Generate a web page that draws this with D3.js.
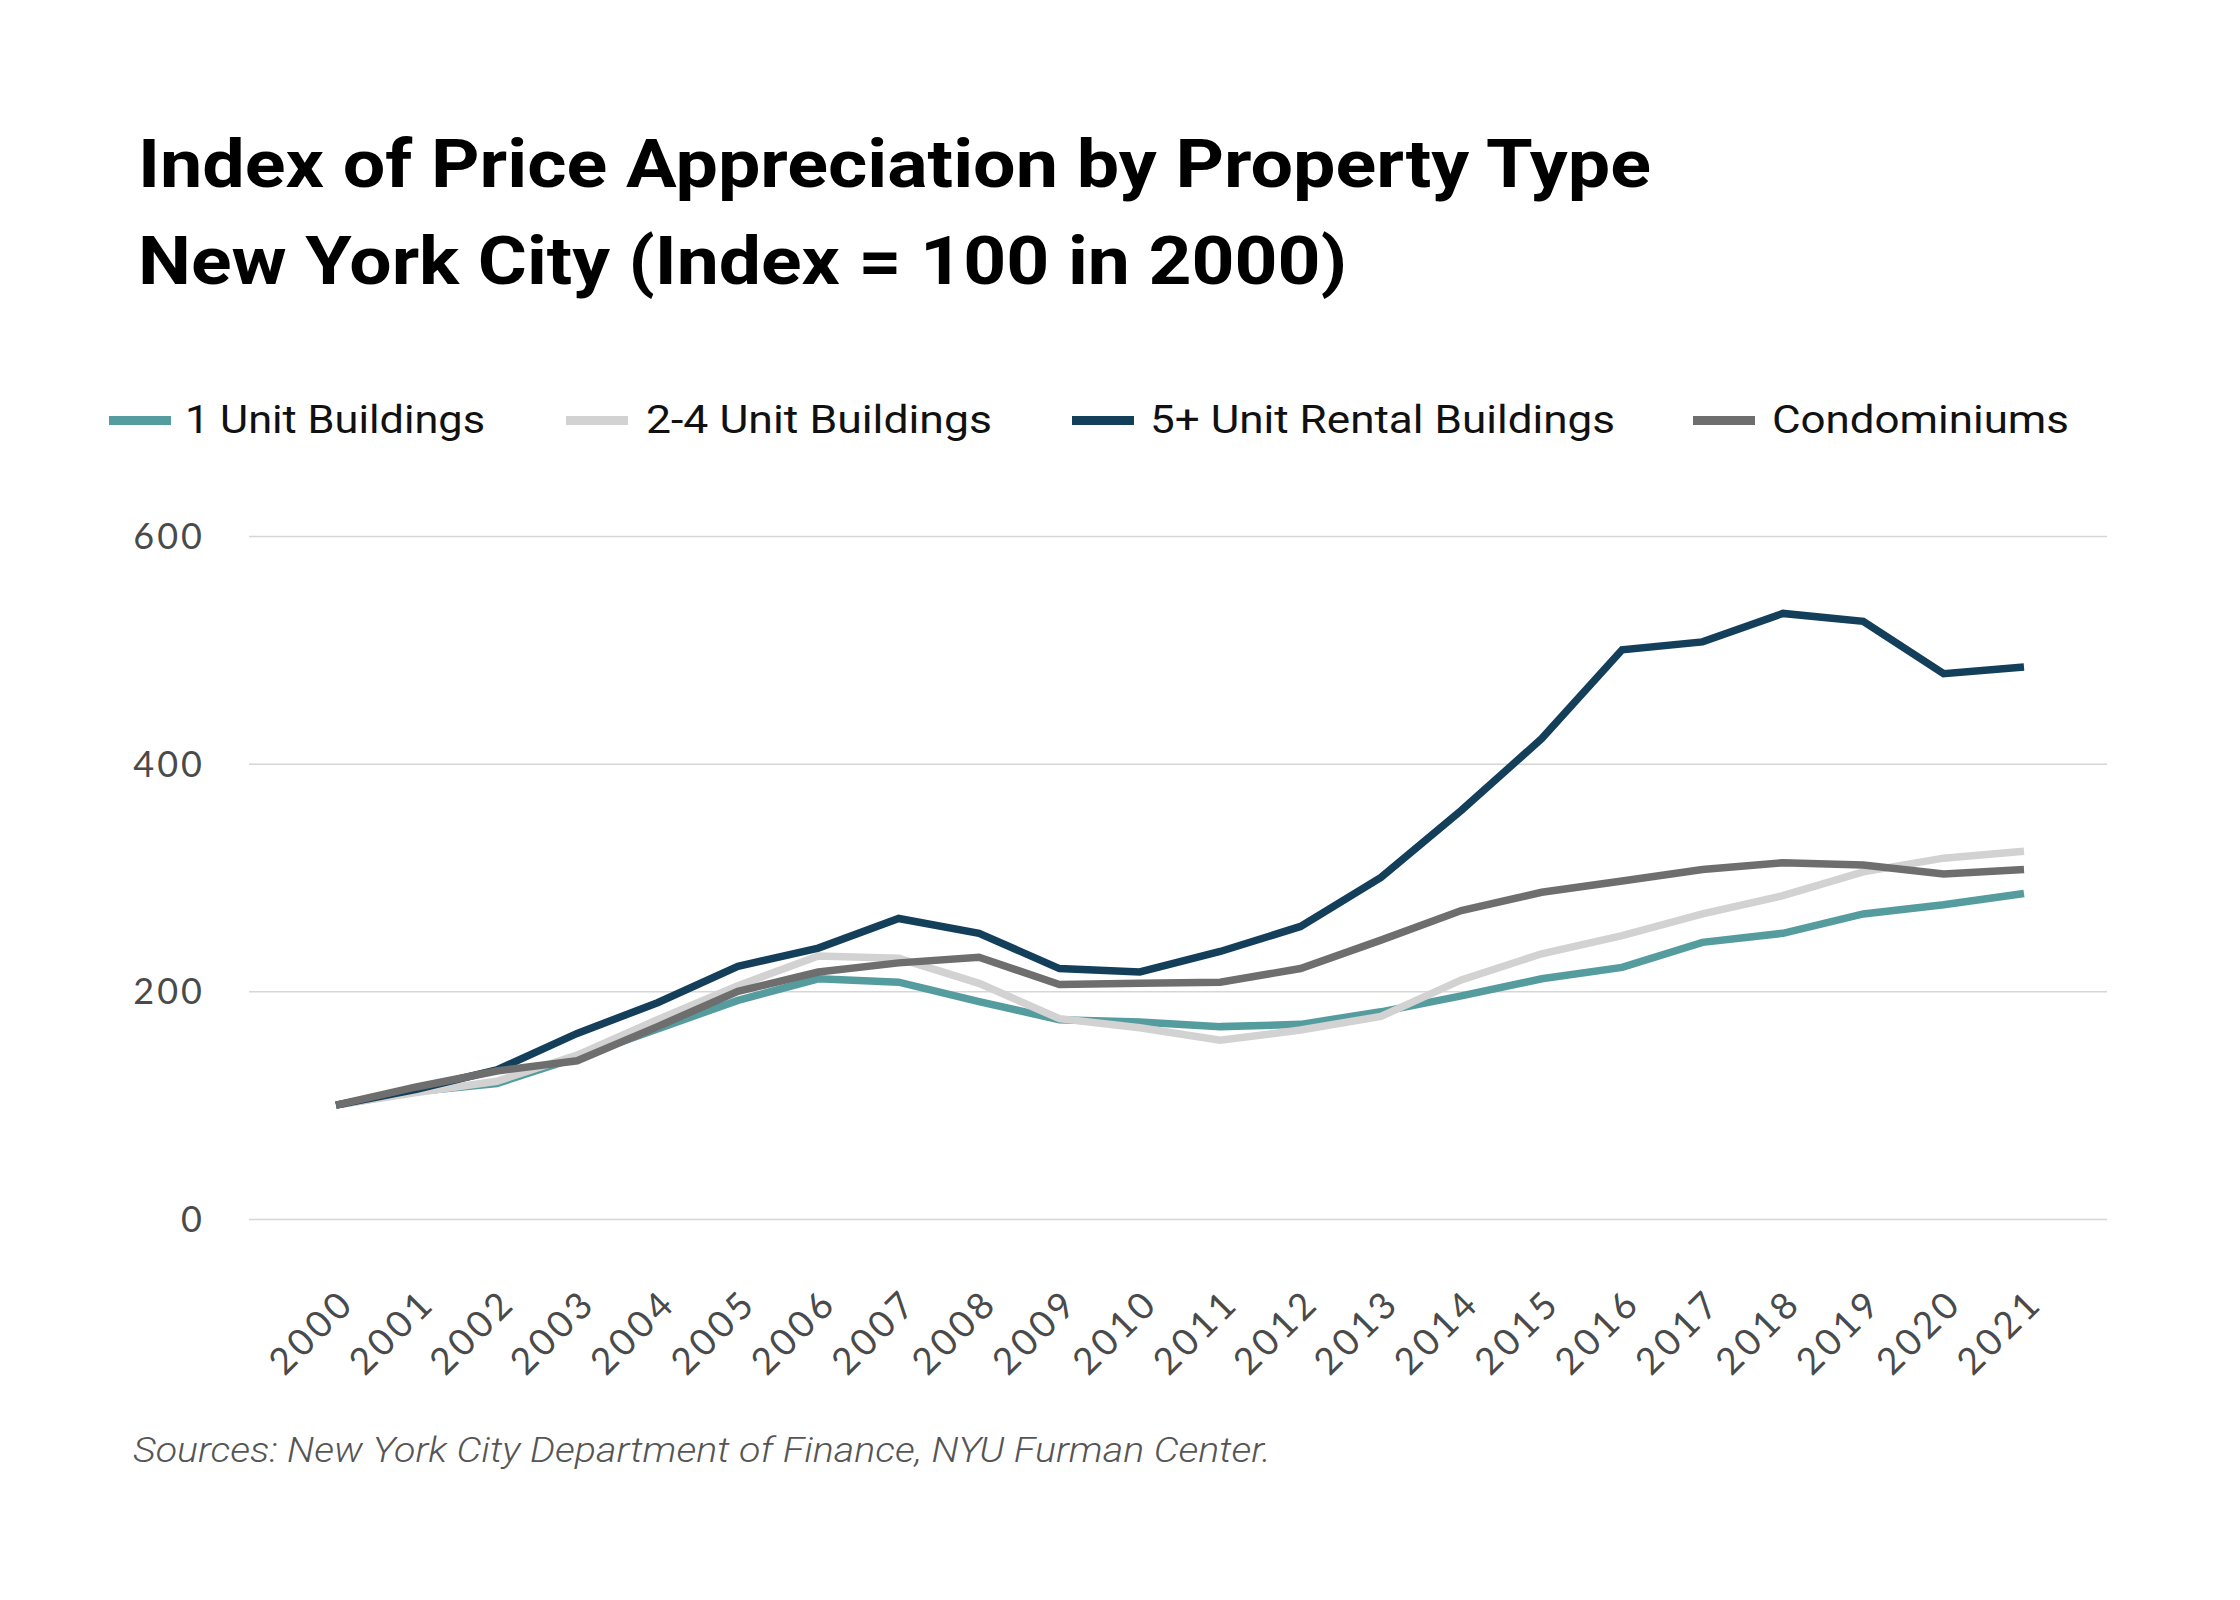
<!DOCTYPE html>
<html>
<head>
<meta charset="utf-8">
<script src="https://cdn.jsdelivr.net/npm/d3@7"></script>
<style>
  html, body { margin: 0; padding: 0; background: #ffffff; }
  svg { display: block; }
</style>
</head>
<body>
<svg id="chart" width="2240" height="1600"></svg>
<script>
// ---------- DATA ----------
const years = ["2000","2001","2002","2003","2004","2005","2006","2007","2008","2009","2010",
               "2011","2012","2013","2014","2015","2016","2017","2018","2019","2020","2021"];
const seriesNames = ["1 Unit Buildings", "2-4 Unit Buildings", "5+ Unit Rental Buildings", "Condominiums"];
const oneUnit     = [100,112,119,142,167,192,211,208,191,175,173,169,171,182,196,211,221,243,251,268,276,286];
const twoToFour   = [100,111,121,144,175,205,231,229,207,176,168,157,166,178,210,233,249,268,284,305,317,323];
const fivePlus    = [100,114,131,163,190,222,238,264,251,220,217,235,257,300,359,422,500,507,532,525,479,485];
const condos      = [100,116,130,139,169,200,217,225,230,206,207,208,220,245,271,287,297,307,313,311,303,307];
const yTicks      = [0, 200, 400, 600];
const titleLines  = ["Index of Price Appreciation by Property Type", "New York City (Index = 100 in 2000)"];
const sourceText  = "Sources: New York City Department of Finance, NYU Furman Center.";

const seriesValues = [oneUnit, twoToFour, fivePlus, condos];
const colors = ["#559c9e", "#d2d2d2", "#143f5a", "#6e6e6e"];

// ---------- LAYOUT ----------
const svg = d3.select("#chart");
const x = d3.scalePoint().domain(years).range([336, 2024]);
const y = d3.scaleLinear().domain([0, 600]).range([1219, 536]);

// Title
const titleG = svg.append("g");
const titleFit = [1513, 1209];
const titleBase = [187, 284];
titleLines.forEach((t, i) => {
  titleG.append("text")
    .attr("x", 138).attr("y", titleBase[i])
    .attr("font-family", "Roboto, 'Open Sans', sans-serif")
    .attr("font-weight", 700)
    .attr("font-size", 67)
    .attr("fill", "#000")
    .attr("textLength", titleFit[i])
    .attr("lengthAdjust", "spacingAndGlyphs")
    .text(t);
});

// Legend
const legendSwatchX = [109, 566, 1072, 1693];
const legendTextX = [185, 646, 1150, 1772];
const legendTextW = [300, 346, 465, 297];
const legend = svg.append("g");
seriesNames.forEach((name, i) => {
  legend.append("rect")
    .attr("x", legendSwatchX[i]).attr("y", 416)
    .attr("width", 62).attr("height", 9)
    .attr("fill", colors[i]);
  legend.append("text")
    .attr("x", legendTextX[i]).attr("y", 433)
    .attr("font-family", "Roboto, 'Open Sans', sans-serif")
    .attr("font-size", 38)
    .attr("fill", "#111")
    .attr("textLength", legendTextW[i])
    .attr("lengthAdjust", "spacingAndGlyphs")
    .text(name);
});

// Y axis with gridlines
const yAxis = d3.axisLeft(y).tickValues(yTicks).tickSize(-(2107 - 249)).tickPadding(44).tickFormat(d3.format("d"));
const yG = svg.append("g").attr("transform", "translate(249,0)").call(yAxis);
yG.select(".domain").remove();
yG.selectAll(".tick line").attr("stroke", "#d6d6d6").attr("stroke-width", 1.5);
yG.selectAll(".tick text")
  .attr("font-family", "Lato, 'Open Sans', sans-serif")
  .attr("font-size", 36)
  .attr("letter-spacing", 3)
  .attr("fill", "#4a4a4a")
  .attr("dy", "0.35em");

// X axis labels
const xAxis = d3.axisBottom(x).tickSize(0).tickPadding(0);
const xG = svg.append("g").attr("transform", "translate(0,1305)").call(xAxis);
xG.select(".domain").remove();
xG.selectAll(".tick text")
  .attr("font-family", "Lato, 'Open Sans', sans-serif")
  .attr("font-size", 37)
  .attr("letter-spacing", 4)
  .attr("fill", "#4a4a4a")
  .attr("text-anchor", "end")
  .attr("dy", 0)
  .attr("transform", "translate(20,0) rotate(-45)");

// Lines
const line = d3.line().x((d, i) => x(years[i])).y(d => y(d));
const drawOrder = [0, 1, 2, 3];
svg.append("g").selectAll("path")
  .data(drawOrder)
  .join("path")
  .attr("d", i => line(seriesValues[i]))
  .attr("fill", "none")
  .attr("stroke", i => colors[i])
  .attr("stroke-width", 7.5)
  .attr("stroke-linejoin", "miter");

// Source
svg.append("text")
  .attr("x", 133).attr("y", 1462)
  .attr("font-family", "Roboto, 'Open Sans', sans-serif")
  .attr("font-style", "italic")
  .attr("font-weight", 300)
  .attr("font-size", 35)
  .attr("fill", "#555")
  .attr("textLength", 1138)
  .attr("lengthAdjust", "spacingAndGlyphs")
  .text(sourceText);
</script>
</body>
</html>
